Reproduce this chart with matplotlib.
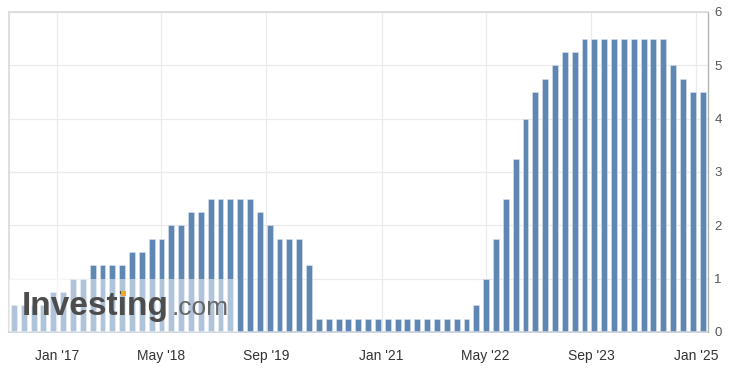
import matplotlib
matplotlib.use("Agg")
import matplotlib.pyplot as plt
from matplotlib.patches import Rectangle
import numpy as np
import pandas as pd

# FOMC meeting dates (categories) and upper-bound rate (%)
meeting_dates = [
    "2016-06-15", "2016-07-27", "2016-09-21", "2016-11-02", "2016-12-14",
    "2017-02-01", "2017-03-15", "2017-05-03", "2017-06-14", "2017-07-26", "2017-09-20", "2017-11-01", "2017-12-13",
    "2018-01-31", "2018-03-21", "2018-05-02", "2018-06-13", "2018-08-01", "2018-09-26", "2018-11-08", "2018-12-19",
    "2019-01-30", "2019-03-20", "2019-05-01", "2019-06-19", "2019-07-31", "2019-09-18", "2019-10-30", "2019-12-11",
    "2020-01-29", "2020-03-03", "2020-03-15", "2020-04-29", "2020-06-10", "2020-07-29", "2020-09-16", "2020-11-05", "2020-12-16",
    "2021-01-27", "2021-03-17", "2021-04-28", "2021-06-16", "2021-07-28", "2021-09-22", "2021-11-03", "2021-12-15",
    "2022-01-26", "2022-03-16", "2022-05-04", "2022-06-15", "2022-07-27", "2022-09-21", "2022-11-02", "2022-12-14",
    "2023-02-01", "2023-03-22", "2023-05-03", "2023-06-14", "2023-07-26", "2023-09-20", "2023-11-01", "2023-12-13",
    "2024-01-31", "2024-03-20", "2024-05-01", "2024-06-12", "2024-07-31", "2024-09-18", "2024-11-07", "2024-12-18",
    "2025-01-29",
]
rates = [
    0.50, 0.50, 0.50, 0.50, 0.75,
    0.75, 1.00, 1.00, 1.25, 1.25, 1.25, 1.25, 1.50,
    1.50, 1.75, 1.75, 2.00, 2.00, 2.25, 2.25, 2.50,
    2.50, 2.50, 2.50, 2.50, 2.25, 2.00, 1.75, 1.75,
    1.75, 1.25, 0.25, 0.25, 0.25, 0.25, 0.25, 0.25, 0.25,
    0.25, 0.25, 0.25, 0.25, 0.25, 0.25, 0.25, 0.25,
    0.25, 0.50, 1.00, 1.75, 2.50, 3.25, 4.00, 4.50,
    4.75, 5.00, 5.25, 5.25, 5.50, 5.50, 5.50, 5.50,
    5.50, 5.50, 5.50, 5.50, 5.50, 5.00, 4.75, 4.50,
    4.50,
]
tick_labels = ["Jan '17", "May '18", "Sep '19", "Jan '21", "May '22", "Sep '23", "Jan '25"]
tick_dates = ["2017-01-01", "2018-05-01", "2019-09-01", "2021-01-01", "2022-05-01", "2023-09-01", "2025-01-01"]
y_ticks = [0, 1, 2, 3, 4, 5, 6]

plt.rcParams['font.family'] = ['Liberation Sans', 'DejaVu Sans']

W, H = 734, 373
fig = plt.figure(figsize=(W / 100, H / 100), dpi=100)
left, right, top, bottom = 9, 707.5, 12, 332
ax = fig.add_axes([left / W, (H - bottom) / H, (right - left) / W, (bottom - top) / H])

x = np.arange(len(rates))
ax.bar(x, rates, width=0.6, color="#5f87b4", edgecolor="#dbe4ef", linewidth=0.4, zorder=2)

# ordinal axis: tick positions interpolated between meeting dates
md = pd.to_datetime(meeting_dates).astype("int64")
td = pd.to_datetime(tick_dates).astype("int64")
tick_pos = np.interp(td, md, x)

ax.set_xlim(-0.5, len(rates) - 0.5)
ax.set_ylim(0, 6)
ax.set_xticks(tick_pos)
ax.set_xticklabels(tick_labels, fontsize=10, color="#333333")
ax.set_yticks(y_ticks)
ax.set_yticklabels([str(v) for v in y_ticks], fontsize=9.5, color="#555555")
ax.yaxis.tick_right()
ax.tick_params(axis="x", length=0, pad=12)
ax.tick_params(axis="y", length=0, pad=5)

ax.grid(True, color="#ebebeb", linewidth=0.9, zorder=0)
ax.set_axisbelow(True)

for s in ("top", "left"):
    ax.spines[s].set_color("#d9d9d9")
    ax.spines[s].set_linewidth(1.2)
ax.spines["right"].set_color("#b3b3b3")
ax.spines["right"].set_linewidth(1.0)
ax.spines["bottom"].set_color("#c7cfdb")
ax.spines["bottom"].set_linewidth(1.2)

# watermark
ax.add_patch(Rectangle((0, 0), (238 - left) / (right - left), (bottom - 279) / (bottom - top),
                       transform=ax.transAxes, facecolor="white", alpha=0.5,
                       edgecolor="none", zorder=3))
wx = (22 - left) / (right - left)
wy = (bottom - 315) / (bottom - top)
t1 = ax.text(wx, wy, "Investing", transform=ax.transAxes, fontsize=24, fontweight="bold",
             color="#4d4d4d", ha="left", va="baseline", zorder=4)
ax.text((172 - left) / (right - left), wy, ".com", transform=ax.transAxes, fontsize=19,
        color="#666666", ha="left", va="baseline", zorder=4)

# orange dot over the second 'i' of the logo
renderer = fig.canvas.get_renderer()
tmp = ax.text(wx, wy, "Invest", transform=ax.transAxes, fontsize=24, fontweight="bold",
              ha="left", va="baseline")
bb = tmp.get_window_extent(renderer)
tmp.remove()
em = 24 * 100 / 72.0
i_left = bb.x1
base_px = H - 315
fig.patches.append(Rectangle(((i_left + 0.07 * em) / W, (base_px + 0.58 * em) / H),
                             0.15 * em / W, 0.15 * em / H, transform=fig.transFigure,
                             facecolor="#f5a623", edgecolor="none", zorder=5))

fig.savefig("out.png", dpi=100)
